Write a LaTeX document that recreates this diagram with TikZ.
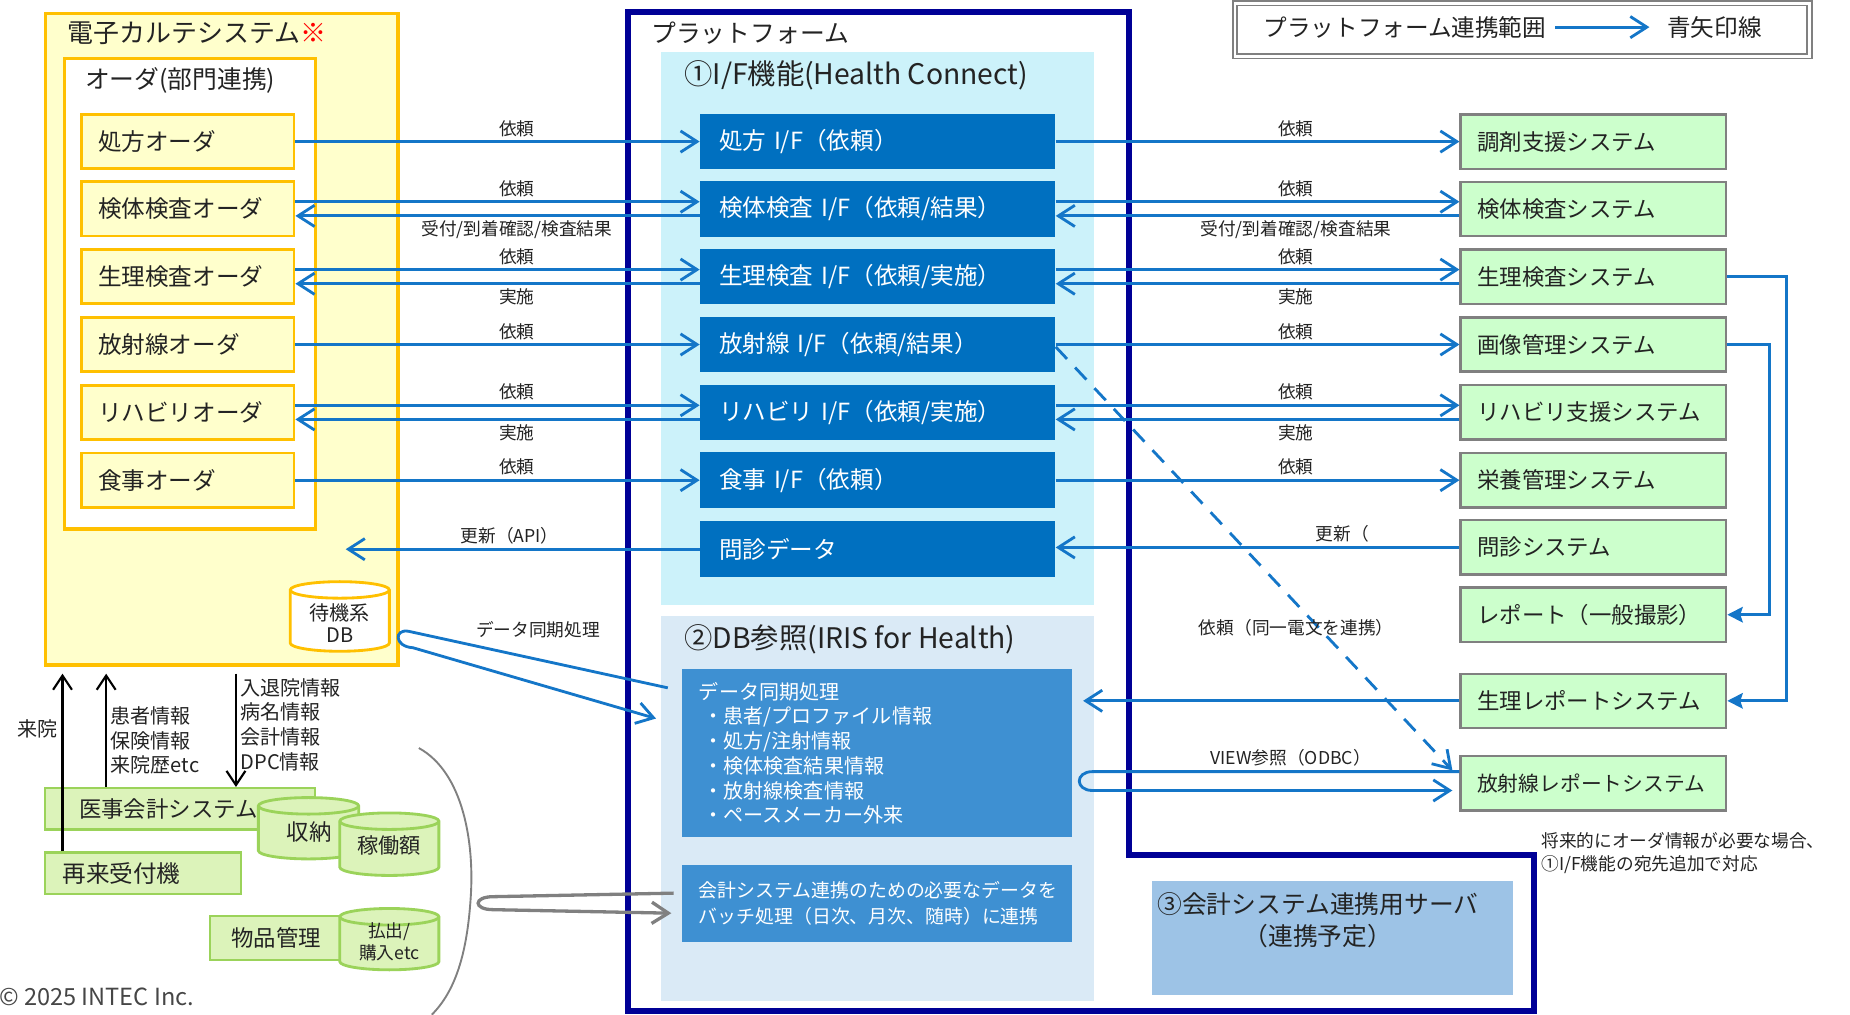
\documentclass[tikz,border=0pt]{standalone}
\usepackage{fontspec}
\setmainfont{Noto Sans CJK JP}
\usetikzlibrary{arrows.meta}
\definecolor{gold}{RGB}{255,192,0}
\definecolor{yfill}{RGB}{255,255,204}
\definecolor{navy}{RGB}{0,0,150}
\definecolor{ifblue}{RGB}{0,112,192}
\definecolor{lnblue}{RGB}{20,118,200}
\definecolor{cyanbg}{RGB}{204,242,250}
\definecolor{dbbg}{RGB}{218,234,246}
\definecolor{syncblue}{RGB}{62,144,210}
\definecolor{srvblue}{RGB}{157,195,230}
\definecolor{sysgreen}{RGB}{204,255,204}
\definecolor{sysdraw}{RGB}{128,128,128}
\definecolor{lgfill}{RGB}{220,243,186}
\definecolor{lgdraw}{RGB}{155,211,90}
\definecolor{txt}{RGB}{35,35,35}
\newcommand\fsz[2]{\fontsize{#1pt}{#2pt}\selectfont}
\newcommand\drawcyl[6]{%
  \pgfmathsetmacro\cylrx{(#3-#1)/2}%
  \filldraw[fill=#5,draw=#6,line width=1.2pt]
    (#1,#2+7) -- (#1,#4-7) arc[start angle=180,end angle=0,x radius=\cylrx,y radius=7]
    -- (#3,#2+7) arc[start angle=0,end angle=-180,x radius=\cylrx,y radius=7] -- cycle;
  \draw[draw=#6,line width=1.2pt] (#1,#2+7) arc[start angle=180,end angle=0,x radius=\cylrx,y radius=7];
}
\tikzset{
  ord/.style={rectangle,draw=gold,fill=yfill,line width=1.2pt,anchor=west,minimum height=23pt,text width=76pt,inner xsep=7pt,inner ysep=0pt,align=left,font={\fsz{10}{12}}},
  ifb/.style={rectangle,fill=ifblue,text=white,anchor=west,minimum height=23.5pt,text width=134.5pt,inner xsep=8pt,inner ysep=0pt,align=left,font={\fsz{10}{12}}},
  sysb/.style={rectangle,draw=sysdraw,fill=sysgreen,line width=1pt,anchor=west,minimum height=23pt,text width=98.5pt,inner xsep=7pt,inner ysep=0pt,align=left,font={\fsz{9.5}{11.5}}},
  lgb/.style={rectangle,draw=lgdraw,fill=lgfill,line width=1pt,anchor=west,inner ysep=0pt,minimum height=17.5pt},
  arr/.style={draw=lnblue,line width=1.2pt,-{Straight Barb[length=7pt,width=9pt]}},
  rarr/.style={draw=lnblue,line width=1.4pt,-{Stealth[length=6.5pt,width=6.5pt,inset=1pt]}},
  barr/.style={draw=black,line width=0.9pt,-{Straight Barb[length=6pt,width=8pt]}},
  garr/.style={draw=gray,line width=1.4pt,-{Straight Barb[length=7pt,width=9pt]}},
  lab/.style={font={\fsz{7.5}{9}},inner sep=1.5pt,text=txt},
}
\begin{document}
\begin{tikzpicture}[x=0.5pt,y=-0.5pt,every node/.style={text=txt}]
\useasboundingbox (0,0) rectangle (1568,860);

% ---- EMR
\node[draw=gold,fill=yfill,line width=1.5pt,anchor=north west,minimum width=149.5pt,minimum height=276pt,inner sep=0] (emr) at (37,10) {};
\node[anchor=west,font={\fsz{11}{13}}] (emrT) at (50,28) {電子カルテシステム\textcolor{red}{※}};
\node[draw=gold,fill=white,line width=1.5pt,anchor=north west,minimum width=106.5pt,minimum height=199.5pt,inner sep=0] (ordg) at (53,48) {};
\node[anchor=west,font={\fsz{10.5}{12}}] (ordT) at (65,68) {オーダ(部門連携)};
\node[ord] (o1) at (68,120) {処方オーダ};
\node[ord] (o2) at (68,177) {検体検査オーダ};
\node[ord] (o3) at (68,234.5) {生理検査オーダ};
\node[ord] (o4) at (68,292) {放射線オーダ};
\node[ord] (o5) at (68,349.5) {リハビリオーダ};
\node[ord] (o6) at (68,407) {食事オーダ};
\drawcyl{246}{493}{330}{552}{white}{gold}
\node[font={\fsz{8.5}{9.5}},align=center,inner sep=0] (dbT) at (288,528) {待機系\\DB};
\coordinate (miE) at (293,465.5);

% ---- platform
\draw[navy,line width=2.5pt] (532,10) -- (957,10) -- (957,725) -- (1300,725) -- (1300,857) -- (532,857) -- cycle;
\node[anchor=west,font={\fsz{10.5}{12}}] (platT) at (545,28) {プラットフォーム};
\node[fill=cyanbg,anchor=north west,minimum width=183.5pt,minimum height=234pt,inner sep=0] (ifarea) at (560,44) {};
\node[anchor=west,font={\fsz{12}{14}}] (ifT) at (573,64) {①I/F機能(Health Connect)};
\node[ifb] (f1) at (593,120) {処方 I/F（依頼）};
\node[ifb] (f2) at (593,177) {検体検査 I/F（依頼/結果）};
\node[ifb] (f3) at (593,234.5) {生理検査 I/F（依頼/実施）};
\node[ifb] (f4) at (593,292) {放射線 I/F（依頼/結果）};
\node[ifb] (f5) at (593,349.5) {リハビリ I/F（依頼/実施）};
\node[ifb] (f6) at (593,407) {食事 I/F（依頼）};
\node[ifb] (f7) at (593,465.5) {問診データ};
\node[fill=dbbg,anchor=north west,minimum width=183.5pt,minimum height=163pt,inner sep=0] (dbarea) at (560,522) {};
\node[anchor=west,font={\fsz{12}{14}}] (dbAT) at (573,542) {②DB参照(IRIS for Health)};
\node[fill=syncblue,text=white,anchor=north west,minimum width=165pt,minimum height=71pt,text width=151pt,inner xsep=7pt,inner ysep=3pt,align=left,font={\fsz{8.5}{10.5}}] (sync) at (578,567)
  {データ同期処理\\\hspace*{2pt}・患者/プロファイル情報\\\hspace*{2pt}・処方/注射情報\\\hspace*{2pt}・検体検査結果情報\\\hspace*{2pt}・放射線検査情報\\\hspace*{2pt}・ペースメーカー外来};
\node[fill=syncblue,text=white,anchor=north west,minimum width=165pt,minimum height=32.5pt,text width=151pt,inner xsep=7pt,inner ysep=0pt,align=left,font={\fsz{8}{11}}] (acct) at (578,733)
  {会計システム連携のための必要なデータを\\バッチ処理（日次、月次、随時）に連携};
\node[fill=srvblue,anchor=north west,minimum width=153pt,minimum height=48.5pt,inner sep=0] (srv) at (976,746) {};
\node[align=center,font={\fsz{10.5}{13.5}},inner sep=0] (srvT) at (1117,780) {③会計システム連携用サーバ\\（連携予定）};

% ---- legend
\node[draw=gray,double=white,double distance=1.2pt,line width=0.7pt,fill=white,anchor=north west,minimum width=243.5pt,minimum height=22.5pt,inner sep=0] (leg) at (1046,2) {};
\node[anchor=west,font={\fsz{10}{12}}] (legA) at (1064,23) {プラットフォーム連携範囲};
\coordinate (la) at (1318,23);
\coordinate (lb) at (1398,23);
\node[anchor=west,font={\fsz{10}{12}}] (legB) at (1406,23) {青矢印線};
\draw[arr] (la) -- (lb);

% ---- systems
\node[sysb] (s1) at (1237,120) {調剤支援システム};
\node[sysb] (s2) at (1237,177) {検体検査システム};
\node[sysb] (s3) at (1237,234.5) {生理検査システム};
\node[sysb] (s4) at (1237,292) {画像管理システム};
\node[sysb] (s5) at (1237,349.5) {リハビリ支援システム};
\node[sysb] (s6) at (1237,407) {栄養管理システム};
\node[sysb] (s7) at (1237,464) {問診システム};
\node[sysb] (s8) at (1237,521) {レポート（一般撮影）};
\node[sysb] (s9) at (1237,594) {生理レポートシステム};
\node[sysb,font={\fsz{8.8}{11}}] (s10) at (1237,664) {放射線レポートシステム};
\node[anchor=north west,align=left,font={\fsz{7.5}{10}},inner sep=0] (note) at (1306,705) {将来的にオーダ情報が必要な場合、\\①I/F機能の宛先追加で対応};

% ---- lower left
\node[lgb,minimum width=114.5pt,text width=85.5pt,inner xsep=14.5pt,align=left,font={\fsz{9.5}{11}}] (ika) at (37,685.5) {医事会計システム};
\node[lgb,minimum width=83pt,text width=68pt,inner xsep=7.5pt,align=left,font={\fsz{10}{12}}] (rc) at (37,740) {再来受付機};
\drawcyl{219}{676}{304}{728}{lgfill}{lgdraw}
\node[font={\fsz{9.5}{11}},inner sep=0] (shuno) at (262,705) {収納};
\drawcyl{288}{689}{372}{742}{lgfill}{lgdraw}
\node[font={\fsz{9}{11}},inner sep=0] (kado) at (330,717) {稼働額};
\node[lgb,minimum width=56pt,text width=56pt,inner xsep=0pt,align=center,font={\fsz{9.5}{11}},minimum height=18.5pt] (bh) at (177,795) {物品管理};
\drawcyl{288}{770}{372}{822}{lgfill}{lgdraw}
\node[font={\fsz{7.5}{9.5}},align=center,inner sep=0] (hara) at (330,798) {払出/\\購入etc};
\draw[gray,line width=0.8pt] (355,634) .. controls (393,655) and (402,715) .. (399,760) .. controls (396,808) and (386,840) .. (366,860);
\node[anchor=west,inner sep=0,font={\fsz{10}{12}},text={rgb,255:red,70;green,70;blue,70}] (copy) at (-1,845) {© 2025 INTEC Inc.};

% ---- black arrows
\draw[barr] ([xshift=8pt]rc.north west) -- ([xshift=8pt,yshift=-3pt]emr.south west) node[lab,pos=0.69,left,font={\fsz{8.5}{10}}] {来院};
\draw[barr] ([xshift=26.5pt]ika.north west) -- ([xshift=26.5pt,yshift=-3pt]emr.south west) node[lab,pos=0.41,right,align=left,font={\fsz{8.5}{10.3}}] {患者情報\\保険情報\\来院歴etc};
\draw[barr] ([xshift=81.5pt,yshift=-3pt]emr.south west) -- ([xshift=81.5pt]ika.north west) node[lab,pos=0.45,right,align=left,font={\fsz{8.5}{10.5}}] {入退院情報\\病名情報\\会計情報\\DPC情報};

% ---- order <-> IF
\draw[arr] (o1.east) -- node[lab,pos=0.548,above] {依頼} (f1.west);
\draw[arr] ([yshift=3pt]o2.east) -- node[lab,pos=0.548,above] {依頼} ([yshift=3pt]f2.west);
\draw[arr] ([yshift=-3pt]f2.west) -- node[lab,pos=0.452,below] {受付/到着確認/検査結果} ([yshift=-3pt]o2.east);
\draw[arr] ([yshift=3pt]o3.east) -- node[lab,pos=0.548,above] {依頼} ([yshift=3pt]f3.west);
\draw[arr] ([yshift=-3pt]f3.west) -- node[lab,pos=0.452,below] {実施} ([yshift=-3pt]o3.east);
\draw[arr] (o4.east) -- node[lab,pos=0.548,above] {依頼} (f4.west);
\draw[arr] ([yshift=3pt]o5.east) -- node[lab,pos=0.548,above] {依頼} ([yshift=3pt]f5.west);
\draw[arr] ([yshift=-3pt]f5.west) -- node[lab,pos=0.452,below] {実施} ([yshift=-3pt]o5.east);
\draw[arr] (o6.east) -- node[lab,pos=0.548,above] {依頼} (f6.west);
\draw[arr] (f7.west) -- node[lab,pos=0.537,above] {更新（API）} (miE);

% ---- IF <-> systems
\draw[arr] (f1.east) -- node[lab,pos=0.595,above] {依頼} (s1.west);
\draw[arr] ([yshift=3pt]f2.east) -- node[lab,pos=0.595,above] {依頼} ([yshift=3pt]s2.west);
\draw[arr] ([yshift=-3pt]s2.west) -- node[lab,pos=0.405,below] {受付/到着確認/検査結果} ([yshift=-3pt]f2.east);
\draw[arr] ([yshift=3pt]f3.east) -- node[lab,pos=0.595,above] {依頼} ([yshift=3pt]s3.west);
\draw[arr] ([yshift=-3pt]s3.west) -- node[lab,pos=0.405,below] {実施} ([yshift=-3pt]f3.east);
\draw[arr] (f4.east) -- node[lab,pos=0.595,above] {依頼} (s4.west);
\draw[arr] ([yshift=3pt]f5.east) -- node[lab,pos=0.595,above] {依頼} ([yshift=3pt]s5.west);
\draw[arr] ([yshift=-3pt]s5.west) -- node[lab,pos=0.405,below] {実施} ([yshift=-3pt]f5.east);
\draw[arr] (f6.east) -- node[lab,pos=0.595,above] {依頼} (s6.west);
\draw[arr] (s7.west) -- node[lab,pos=0.29,above] {更新（} (f7.east |- s7.west);
\draw[arr,dash pattern=on 7pt off 5pt] ([yshift=-1pt]f4.east) -- node[lab,pos=0.663,xshift=-9.5pt] {依頼（同一電文を連携）} ([xshift=-3pt,yshift=5.5pt]s10.west);
\coordinate (syncR) at (918,594);
\draw[arr] (s9.west) -- (syncR);
\draw[arr] ([yshift=5pt]s10.west) -- node[lab,pos=0.46,above] {VIEW参照（ODBC）} (926,654) .. controls (911,654) and (911,670) .. (926,670) -- ([xshift=-3pt,yshift=-3pt]s10.west);
\draw[rarr] (s3.east) -| (1514,594) -- (s9.east);
\draw[rarr] (s4.east) -| (1500,521) -- (s8.east);

% ---- sync lassos
\coordinate (syA) at (566,583);
\coordinate (syB) at (556,609);
\draw[arr] (syA) -- node[lab,pos=0.5,above=7pt] {データ同期処理} (346,535) .. controls (334,533) and (334,548) .. (350,549) -- (syB);
\coordinate (gA) at (571,757);
\coordinate (gB) at (569,774);
\draw[garr] (gA) -- (418,760) .. controls (401,760) and (401,771) .. (418,771) -- (gB);
\end{tikzpicture}
\end{document}
